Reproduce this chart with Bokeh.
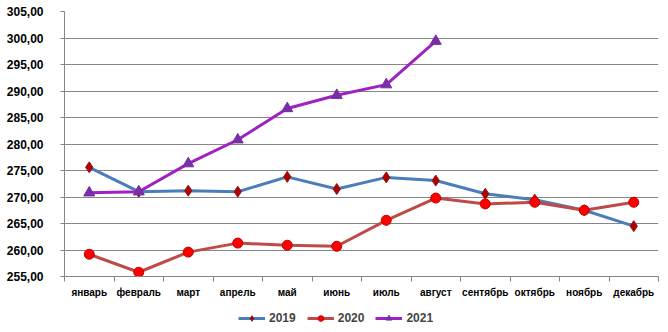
import numpy as np
from bokeh.plotting import figure
from bokeh.layouts import column
from bokeh.models import Range1d, FixedTicker, CustomJSTickFormatter, Legend, LegendItem
from bokeh.embed import file_html
from bokeh.resources import INLINE

months = ["январь", "февраль", "март", "апрель", "май", "июнь",
          "июль", "август", "сентябрь", "октябрь", "ноябрь", "декабрь"]
y2019 = [275.6, 271.0, 271.2, 271.0, 273.8, 271.5, 273.7, 273.1, 270.6, 269.5, 267.5, 264.5]
y2020 = [259.2, 255.8, 259.6, 261.3, 260.9, 260.7, 265.6, 269.8, 268.7, 269.0, 267.5, 269.0]
y2021 = [270.8, 271.0, 276.3, 280.8, 286.7, 289.2, 291.2, 299.4]
y_ticks = [255, 260, 265, 270, 275, 280, 285, 290, 295, 300, 305]
series_names = ["2019", "2020", "2021"]

GRID = "#868686"
FONT = "Liberation Sans"

STYLES = [
    dict(line="#4A7EBB", marker="diamond", size=11, fill="#B00000", edge="#8B1A1A"),
    dict(line="#BE4B48", marker="circle", size=10, fill="#FF0000", edge="#C00000"),
    dict(line="#A020C4", marker="triangle", size=11, fill="#7B2DA8", edge="#7030A0"),
]

x_all = [i + 0.5 for i in range(len(months))]

p = figure(width=668, height=306, output_backend="svg", toolbar_location=None,
           x_range=Range1d(0, len(months)), y_range=Range1d(y_ticks[0], y_ticks[-1]),
           min_border_left=64, min_border_right=10, min_border_top=11, min_border_bottom=30)
p.outline_line_color = None

p.xaxis.ticker = FixedTicker(ticks=x_all, minor_ticks=list(range(len(months) + 1)))
p.xaxis.formatter = CustomJSTickFormatter(args=dict(months=months),
                                          code="return months[Math.floor(tick)];")
p.xaxis.major_tick_line_color = None
p.xaxis.minor_tick_line_color = GRID
p.xaxis.minor_tick_out = 5
p.xaxis.minor_tick_in = 0
p.xaxis.axis_line_color = GRID
p.xaxis.major_label_standoff = 4
p.xaxis.major_label_text_font = FONT
p.xaxis.major_label_text_font_style = "bold"
p.xaxis.major_label_text_font_size = "10px"
p.xaxis.major_label_text_color = "black"

p.yaxis.ticker = FixedTicker(ticks=y_ticks)
p.yaxis.formatter = CustomJSTickFormatter(code="return tick.toFixed(2).replace('.', ',');")
p.yaxis.minor_tick_line_color = None
p.yaxis.major_tick_line_color = GRID
p.yaxis.major_tick_out = 4
p.yaxis.major_tick_in = 0
p.yaxis.axis_line_color = GRID
p.yaxis.major_label_standoff = 17
p.yaxis.major_label_text_font = FONT
p.yaxis.major_label_text_font_style = "bold"
p.yaxis.major_label_text_font_size = "12px"
p.yaxis.major_label_text_color = "black"

p.xgrid.grid_line_color = None
p.ygrid.grid_line_color = GRID
p.ygrid.ticker = FixedTicker(ticks=y_ticks)

data = [y2019, y2020, y2021]
for ys, st in zip(data, STYLES):
    xs = x_all[:len(ys)]
    p.line(xs, ys, line_color=st["line"], line_width=3)
    p.scatter(xs, ys, marker=st["marker"], size=st["size"],
              fill_color=st["fill"], line_color=st["edge"])

# legend strip below the chart
lg = figure(width=668, height=26, output_backend="svg", toolbar_location=None,
            x_axis_location=None, y_axis_location=None,
            x_range=Range1d(0, 1), y_range=Range1d(0, 1),
            min_border_left=0, min_border_right=0, min_border_top=0, min_border_bottom=0)
lg.grid.visible = False
lg.outline_line_color = None
items = []
for name, st in zip(series_names, STYLES):
    r1 = lg.line([-5, -4], [-5, -4], line_color=st["line"], line_width=3)
    r2 = lg.scatter([-5], [-5], marker=st["marker"], size=st["size"] - 2,
                    fill_color=st["fill"], line_color=st["edge"])
    items.append(LegendItem(label=name, renderers=[r1, r2]))
legend = Legend(items=items, orientation="horizontal", location=(174, 7),
                border_line_color=None, background_fill_alpha=0,
                label_text_font=FONT, label_text_font_style="bold",
                label_text_font_size="12px", glyph_width=27, glyph_height=14,
                spacing=11, label_standoff=4, padding=2, margin=0)
lg.add_layout(legend, "center")

layout = column(p, lg, spacing=0)
open("out.html", "w").write(file_html(layout, INLINE))
